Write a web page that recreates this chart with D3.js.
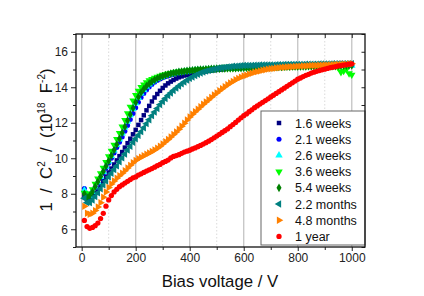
<!DOCTYPE html>
<html>
<head>
<meta charset="utf-8">
<script src="https://cdn.jsdelivr.net/npm/d3@7"></script>
<style>
  body { margin: 0; background: #fff; }
  svg { font-family: "Liberation Sans", Arial, sans-serif; }
</style>
</head>
<body>
<div id="chart"></div>
<script>
// bias voltage (V), one reading every 10 V
const voltage = [
  10, 20, 30, 40, 50, 60, 70, 80, 90, 100,
  110, 120, 130, 140, 150, 160, 170, 180, 190, 200,
  210, 220, 230, 240, 250, 260, 270, 280, 290, 300,
  310, 320, 330, 340, 350, 360, 370, 380, 390, 400,
  410, 420, 430, 440, 450, 460, 470, 480, 490, 500,
  510, 520, 530, 540, 550, 560, 570, 580, 590, 600,
  610, 620, 630, 640, 650, 660, 670, 680, 690, 700,
  710, 720, 730, 740, 750, 760, 770, 780, 790, 800,
  810, 820, 830, 840, 850, 860, 870, 880, 890, 900,
  910, 920, 930, 940, 950, 960, 970, 980, 990, 1000
];

// 1/C^2 in 10^18 F^-2
const weeks16 = [
  7.9, 7.6, 7.65, 7.85, 8.05, 8.28, 8.5, 8.73, 8.96, 9.2,
  9.42, 9.65, 9.88, 10.12, 10.35, 10.6, 10.85, 11.1, 11.35, 11.6,
  11.88, 12.15, 12.42, 12.7, 12.95, 13.2, 13.42, 13.62, 13.8, 13.96,
  14.1, 14.22, 14.32, 14.41, 14.49, 14.56, 14.61, 14.66, 14.7, 14.74,
  14.77, 14.8, 14.83, 14.86, 14.88, 14.9, 14.92, 14.94, 14.96, 14.98,
  15.0, 15.01, 15.03, 15.04, 15.05, 15.06, 15.07, 15.08, 15.09, 15.1,
  15.1, 15.11, 15.12, 15.12, 15.13, 15.14, 15.14, 15.15, 15.15, 15.16,
  15.16, 15.17, 15.17, 15.18, 15.18, 15.19, 15.19, 15.2, 15.2, 15.2,
  15.21, 15.21, 15.21, 15.22, 15.22, 15.22, 15.23, 15.23, 15.23, 15.24,
  15.24, 15.24, 15.25, 15.25, 15.25, 15.26, 15.26, 15.26, 15.27, 15.27
];
const weeks21 = [
  8.3, 8.0, 7.95, 8.1, 8.35, 8.6, 8.88, 9.15, 9.43, 9.72,
  10.0, 10.3, 10.6, 10.9, 11.2, 11.52, 11.85, 12.18, 12.52, 12.85,
  13.15, 13.42, 13.65, 13.85, 14.02, 14.16, 14.28, 14.38, 14.46, 14.53,
  14.59, 14.64, 14.69, 14.73, 14.77, 14.8, 14.83, 14.86, 14.88, 14.9,
  14.92, 14.94, 14.95, 14.96, 14.97, 14.98, 14.99, 15.0, 15.01, 15.02,
  15.03, 15.04, 15.05, 15.06, 15.06, 15.07, 15.08, 15.08, 15.09, 15.1,
  15.1, 15.11, 15.11, 15.12, 15.12, 15.13, 15.13, 15.14, 15.14, 15.15,
  15.15, 15.15, 15.16, 15.16, 15.17, 15.17, 15.17, 15.18, 15.18, 15.18,
  15.19, 15.19, 15.19, 15.2, 15.2, 15.2, 15.2, 15.21, 15.21, 15.21,
  15.21, 15.22, 15.22, 15.22, 15.22, 15.23, 15.23, 15.23, 15.23, 15.24
];
const weeks26 = [
  8.2, 7.9, 7.9, 8.1, 8.38, 8.66, 8.95, 9.24, 9.53, 9.83,
  10.13, 10.44, 10.75, 11.07, 11.4, 11.74, 12.08, 12.43, 12.78, 13.1,
  13.4, 13.65, 13.86, 14.03, 14.17, 14.29, 14.39, 14.47, 14.54, 14.6,
  14.65, 14.7, 14.74, 14.78, 14.81, 14.84, 14.86, 14.88, 14.9, 14.92,
  14.94, 14.96, 14.97, 14.98, 14.99, 15.0, 15.01, 15.02, 15.03, 15.04,
  15.04, 15.05, 15.05, 15.06, 15.06, 15.07, 15.07, 15.08, 15.08, 15.09,
  15.09, 15.1, 15.1, 15.11, 15.11, 15.11, 15.12, 15.12, 15.13, 15.13,
  15.13, 15.14, 15.14, 15.14, 15.15, 15.15, 15.15, 15.16, 15.16, 15.16,
  15.17, 15.17, 15.17, 15.18, 15.18, 15.18, 15.19, 15.19, 15.19, 15.19,
  15.2, 15.2, 15.2, 15.2, 15.21, 15.21, 15.21, 15.21, 15.22, 15.22
];
const weeks36 = [
  8.05, 7.85, 8.0, 8.25, 8.55, 8.85, 9.15, 9.45, 9.78, 10.1,
  10.42, 10.75, 11.08, 11.42, 11.78, 12.15, 12.52, 12.9, 13.25, 13.55,
  13.8, 14.0, 14.15, 14.28, 14.38, 14.46, 14.53, 14.59, 14.64, 14.69,
  14.73, 14.77, 14.8, 14.83, 14.86, 14.88, 14.9, 14.92, 14.94, 14.96,
  14.97, 14.98, 14.99, 15.0, 15.01, 15.02, 15.03, 15.04, 15.05, 15.06,
  15.06, 15.07, 15.07, 15.08, 15.08, 15.09, 15.09, 15.1, 15.1, 15.11,
  15.11, 15.12, 15.12, 15.13, 15.13, 15.14, 15.14, 15.15, 15.15, 15.16,
  15.16, 15.16, 15.17, 15.17, 15.17, 15.18, 15.18, 15.18, 15.19, 15.19,
  15.19, 15.2, 15.2, 15.2, 15.2, 15.21, 15.21, 15.21, 15.21, 15.2,
  15.2, 15.19, 15.18, 15.18, 15.1, 14.85, 14.92, 15.0, 14.78, 14.7
];
const weeks54 = [
  8.0, 7.8, 7.9, 8.1, 8.4, 8.68, 8.97, 9.26, 9.55, 9.85,
  10.15, 10.46, 10.78, 11.1, 11.43, 11.77, 12.12, 12.47, 12.82, 13.15,
  13.45, 13.7, 13.9, 14.07, 14.2, 14.32, 14.42, 14.5, 14.57, 14.63,
  14.68, 14.73, 14.77, 14.8, 14.83, 14.86, 14.88, 14.9, 14.92, 14.94,
  14.95, 14.97, 14.98, 14.99, 15.0, 15.01, 15.02, 15.03, 15.04, 15.05,
  15.05, 15.06, 15.06, 15.07, 15.07, 15.08, 15.08, 15.09, 15.09, 15.1,
  15.1, 15.11, 15.11, 15.12, 15.12, 15.12, 15.13, 15.13, 15.14, 15.14,
  15.14, 15.15, 15.15, 15.15, 15.16, 15.16, 15.16, 15.17, 15.17, 15.17,
  15.18, 15.18, 15.18, 15.19, 15.19, 15.19, 15.2, 15.2, 15.2, 15.2,
  15.21, 15.21, 15.21, 15.21, 15.22, 15.22, 15.22, 15.22, 15.23, 15.23
];
const months22 = [
  7.75, 7.5, 7.5, 7.65, 7.85, 8.05, 8.28, 8.5, 8.72, 8.95,
  9.15, 9.36, 9.57, 9.8, 10.02, 10.24, 10.46, 10.68, 10.9, 11.1,
  11.3, 11.5, 11.72, 11.95, 12.17, 12.4, 12.6, 12.8, 13.02, 13.2,
  13.37, 13.53, 13.68, 13.82, 13.95, 14.07, 14.19, 14.3, 14.4, 14.5,
  14.58, 14.66, 14.73, 14.8, 14.86, 14.91, 14.95, 14.99, 15.02, 15.05,
  15.08, 15.1, 15.12, 15.14, 15.16, 15.18, 15.19, 15.2, 15.21, 15.22,
  15.22, 15.23, 15.23, 15.24, 15.24, 15.25, 15.25, 15.25, 15.26, 15.26,
  15.26, 15.27, 15.27, 15.27, 15.28, 15.28, 15.28, 15.28, 15.29, 15.29,
  15.29, 15.29, 15.3, 15.3, 15.3, 15.3, 15.3, 15.31, 15.31, 15.31,
  15.31, 15.31, 15.32, 15.32, 15.32, 15.32, 15.32, 15.33, 15.33, 15.33
];
const months48 = [
  7.3, 6.9, 6.85, 6.9, 7.05, 7.25, 7.5, 7.8, 8.1, 8.35,
  8.55, 8.72, 8.88, 9.02, 9.15, 9.3, 9.45, 9.6, 9.75, 9.88,
  9.98, 10.06, 10.14, 10.22, 10.3, 10.38, 10.47, 10.57, 10.68, 10.8,
  10.93, 11.06, 11.2, 11.34, 11.48, 11.63, 11.8, 11.97, 12.15, 12.32,
  12.48, 12.62, 12.76, 12.9, 13.04, 13.17, 13.3, 13.43, 13.56, 13.68,
  13.8, 13.92, 14.03, 14.14, 14.24, 14.33, 14.42, 14.5, 14.57, 14.63,
  14.68, 14.74, 14.79, 14.84, 14.88, 14.92, 14.96, 14.99, 15.02, 15.04,
  15.06, 15.08, 15.1, 15.12, 15.13, 15.14, 15.15, 15.16, 15.17, 15.18,
  15.19, 15.2, 15.2, 15.21, 15.22, 15.22, 15.23, 15.24, 15.24, 15.25,
  15.26, 15.26, 15.27, 15.28, 15.28, 15.29, 15.3, 15.3, 15.31, 15.32
];
const year1 = [
  6.5, 6.15, 6.05, 6.1, 6.2, 6.35, 6.6, 6.9, 7.3, 7.65,
  7.9, 8.1, 8.25, 8.4, 8.5, 8.6, 8.7, 8.8, 8.9, 8.95,
  9.05, 9.12, 9.2, 9.28, 9.35, 9.42, 9.5, 9.58, 9.65, 9.75,
  9.82, 9.9, 10.02, 10.1, 10.15, 10.2, 10.28, 10.35, 10.4, 10.45,
  10.52, 10.58, 10.65, 10.72, 10.8, 10.88, 10.96, 11.05, 11.15, 11.25,
  11.35, 11.45, 11.55, 11.65, 11.78, 11.9, 12.02, 12.15, 12.28, 12.4,
  12.5, 12.62, 12.73, 12.85, 12.95, 13.05, 13.15, 13.25, 13.35, 13.45,
  13.55, 13.65, 13.75, 13.85, 13.95, 14.05, 14.15, 14.25, 14.35, 14.45,
  14.52, 14.6, 14.67, 14.73, 14.8, 14.85, 14.9, 14.94, 14.98, 15.02,
  15.06, 15.1, 15.13, 15.16, 15.2, 15.22, 15.25, 15.27, 15.3, 15.32
];

const seriesNames = ['1.6 weeks', '2.1 weeks', '2.6 weeks', '3.6 weeks',
                     '5.4 weeks', '2.2 months', '4.8 months', '1 year'];
const seriesValues = [weeks16, weeks21, weeks26, weeks36, weeks54, months22, months48, year1];
const xTicks = [0, 200, 400, 600, 800, 1000];
const yTicks = [6, 8, 10, 12, 14, 16];

const colors = ['#000080', '#0000ff', '#00ffff', '#00ff00', '#008000', '#008080', '#ff8000', '#ff0000'];
// symbol type, size, rotation
const shapes = [
  [d3.symbolSquare, 20, 0],
  [d3.symbolCircle, 20, 0],
  [d3.symbolTriangle, 24, 0],
  [d3.symbolTriangle, 24, 180],
  [d3.symbolDiamond, 22, 0],
  [d3.symbolTriangle, 24, -90],
  [d3.symbolTriangle, 24, 90],
  [d3.symbolCircle, 22, 0]
];

const width = 424, height = 296;
const plot = { left: 76, top: 34, right: 365, bottom: 247 };

const svg = d3.select('#chart').append('svg')
  .attr('width', width).attr('height', height);

const x = d3.scaleLinear().domain([-21, 1049]).range([plot.left, plot.right]);
const y = d3.scaleLinear().domain([5, 17]).range([plot.bottom, plot.top]);

// vertical grid every 100 V
const gridVals = d3.range(0, 1001, 100);
svg.append('g').selectAll('line')
  .data(gridVals).enter().append('line')
  .attr('x1', d => x(d)).attr('x2', d => x(d))
  .attr('y1', plot.top).attr('y2', plot.bottom)
  .attr('stroke', d => d % 200 === 0 ? '#c4c4c4' : '#d0d0d0')
  .attr('stroke-width', d => d % 200 === 0 ? 1.3 : 0.8)
  .attr('stroke-dasharray', d => d % 200 === 0 ? null : '1.5,2');

// series
seriesValues.forEach((vals, i) => {
  const [type, size, rot] = shapes[i];
  const sym = d3.symbol().type(type).size(size);
  svg.append('g').selectAll('path')
    .data(vals.map((v, k) => [voltage[k], v]))
    .enter().append('path')
    .attr('d', sym)
    .attr('transform', d => `translate(${x(d[0])},${y(d[1])}) rotate(${rot})`)
    .attr('fill', colors[i]);
});

// axes
const minorX = d3.range(100, 1001, 200);
const minorY = d3.range(5, 18, 2);

svg.append('g').attr('transform', `translate(0,${plot.bottom})`)
  .call(d3.axisBottom(x).tickValues(xTicks).tickSize(4).tickPadding(2).tickFormat(d3.format('d')));
svg.append('g').attr('transform', `translate(0,${plot.bottom})`)
  .call(d3.axisBottom(x).tickValues(minorX).tickSize(3).tickFormat(''));
svg.append('g').attr('transform', `translate(${plot.left},0)`)
  .call(d3.axisLeft(y).tickValues(yTicks).tickSize(5).tickPadding(3));
svg.append('g').attr('transform', `translate(${plot.left},0)`)
  .call(d3.axisLeft(y).tickValues(minorY).tickSize(3).tickFormat(''));
// top and right, inward
svg.append('g').attr('transform', `translate(0,${plot.top})`)
  .call(d3.axisBottom(x).tickValues(gridVals).tickSize(4).tickFormat(''));
svg.append('g').attr('transform', `translate(${plot.right},0)`)
  .call(d3.axisLeft(y).tickValues(d3.range(5, 18, 1)).tickSize(3.5).tickFormat(''));

svg.selectAll('.domain').remove();
svg.selectAll('.tick line').attr('stroke', '#222').attr('stroke-width', 1);
svg.selectAll('.tick text').attr('fill', '#222').style('font-size', '12px')
  .style('font-family', '"Liberation Sans", Arial, sans-serif');

// legend
const lg = svg.append('g');
lg.append('rect')
  .attr('x', 261).attr('y', 111).attr('width', 104).attr('height', 134)
  .attr('fill', '#fff').attr('stroke', '#666').attr('stroke-width', 1);
seriesNames.forEach((name, i) => {
  const [type, size, rot] = shapes[i];
  const ly = 123 + i * 16.2;
  lg.append('path')
    .attr('d', d3.symbol().type(type).size(size)())
    .attr('transform', `translate(279,${ly}) rotate(${rot})`)
    .attr('fill', colors[i]);
  lg.append('text')
    .attr('x', 295).attr('y', ly).attr('dy', '0.36em')
    .style('font-size', '12.5px').attr('fill', '#111')
    .text(name);
});

// frame
svg.append('rect')
  .attr('x', plot.left).attr('y', plot.top)
  .attr('width', plot.right - plot.left).attr('height', plot.bottom - plot.top)
  .attr('fill', 'none').attr('stroke', '#111').attr('stroke-width', 1.3);

// axis titles
svg.append('text')
  .attr('x', 220).attr('y', 287)
  .attr('text-anchor', 'middle')
  .style('font-size', '16.8px').attr('fill', '#111')
  .text('Bias voltage / V');

const yt = svg.append('text')
  .attr('transform', 'translate(52,140) rotate(-90)')
  .attr('text-anchor', 'middle')
  .style('font-size', '16.8px').style('white-space', 'pre').attr('fill', '#111');
yt.append('tspan').text('1  /  C');
yt.append('tspan').attr('dy', -7).style('font-size', '10px').text('2');
yt.append('tspan').attr('dy', 7).text('  /  (10');
yt.append('tspan').attr('dy', -7).style('font-size', '10px').text('18');
yt.append('tspan').attr('dy', 7).text('  F');
yt.append('tspan').attr('dy', -7).style('font-size', '10px').text('-2');
yt.append('tspan').attr('dy', 7).text(')');
</script>
</body>
</html>
